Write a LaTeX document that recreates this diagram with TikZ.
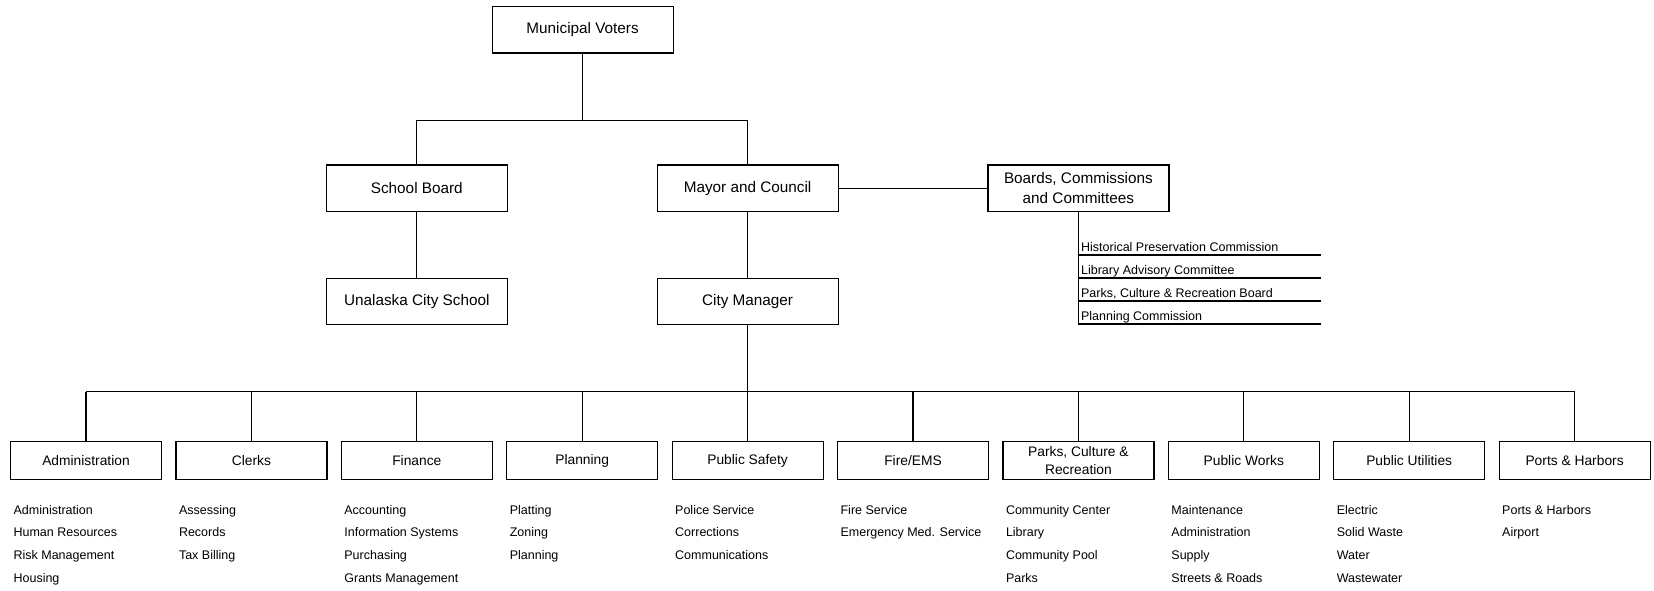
\documentclass[tikz,border=0pt]{standalone}
\usepackage{fontspec}
\setmainfont{Liberation Sans}
\usetikzlibrary{calc}
\begin{document}
\begin{tikzpicture}[x=1pt,y=-1pt,
  topbox/.style={draw, line width=1.2pt, minimum width=181pt, minimum height=46.5pt, inner sep=0pt, align=center, font=\fontsize{15.3}{20}\selectfont},
  deptbox/.style={draw, line width=1.2pt, minimum width=151pt, minimum height=37.6pt, inner sep=0pt, align=center, font=\fontsize{13.8}{18.3}\selectfont},
  itemtxt/.style={anchor=base west, inner sep=0pt, font=\fontsize{12.5}{14}\selectfont},
  conn/.style={line width=1.2pt}]
\useasboundingbox (0,0) rectangle (1654,590);

% top levels
\node[topbox] (mv)  at (582.6,29.7)  {Municipal Voters};
\node[topbox] (sb)  at (416.8,188.3) {School Board};
\node[topbox] (mc)  at (747.6,188.3) {Mayor and Council};
\node[topbox] (bcc) at (1078.4,188.3) {Boards, Commissions\\and Committees};
\node[topbox] (ucs) at (416.8,301.5) {Unalaska City School};
\node[topbox] (cm)  at (747.6,301.5) {City Manager};

\coordinate (b1) at (582.6,120.5);
\draw[conn] (mv.south) -- (b1);
\draw[conn] (sb.north) -- (sb.north |- b1) -- (mc.north |- b1) -- (mc.north);
\draw[conn] (sb) -- (ucs);
\draw[conn] (mc) -- (cm);
\draw[conn] (mc) -- (bcc);

% boards list
\coordinate (l1) at (1321,255);
\coordinate (l2) at (1321,278);
\coordinate (l3) at (1321,301);
\coordinate (l4) at (1321,324);
\draw[conn] (bcc.south) -- (bcc.south |- l4);
\foreach \l in {l1,l2,l3,l4} \draw[conn] (bcc.south |- \l) -- (\l);
\node[itemtxt] (h1) at ($(bcc.south |- l1)+(2.5,-3.5)$) {Historical Preservation Commission};
\node[itemtxt] (h2) at ($(bcc.south |- l2)+(2.5,-3.5)$) {Library Advisory Committee};
\node[itemtxt] (h3) at ($(bcc.south |- l3)+(2.5,-3.5)$) {Parks, Culture \& Recreation Board};
\node[itemtxt] (h4) at ($(bcc.south |- l4)+(2.5,-3.5)$) {Planning Commission};

% departments
\coordinate (dbar) at (747.6,391.5);
\draw[conn] (cm.south) -- (dbar);
\foreach \i/\lab/\items in {
  0/{Administration}/{Administration,Human Resources,Risk Management,Housing},
  1/{Clerks}/{Assessing,Records,Tax Billing},
  2/{Finance}/{Accounting,Information Systems,Purchasing,Grants Management},
  3/{Planning}/{Platting,Zoning,Planning},
  4/{Public Safety}/{Police Service,Corrections,Communications},
  5/{Fire/EMS}/{Fire Service,Emergency Med. Service},
  6/{Parks, Culture \&\\Recreation}/{Community Center,Library,Community Pool,Parks},
  7/{Public Works}/{Maintenance,Administration,Supply,Streets \& Roads},
  8/{Public Utilities}/{Electric,Solid Waste,Water,Wastewater},
  9/{Ports \& Harbors}/{Ports \& Harbors,Airport}} {
  \pgfmathsetmacro\cx{86+165.4*\i}
  \node[deptbox] (d\i) at (\cx,460.5) {\lab};
  \draw[conn] (d\i.north) -- (d\i.north |- dbar);
  \foreach \t [count=\k from 0] in \items {
    \node[itemtxt] (d\i-\k) at ($(d\i.west)+(3.5,53.5+22.8*\k)$) {\t};
  }
}
\draw[conn] (d0.north |- dbar) -- (d9.north |- dbar);
\end{tikzpicture}
\end{document}
